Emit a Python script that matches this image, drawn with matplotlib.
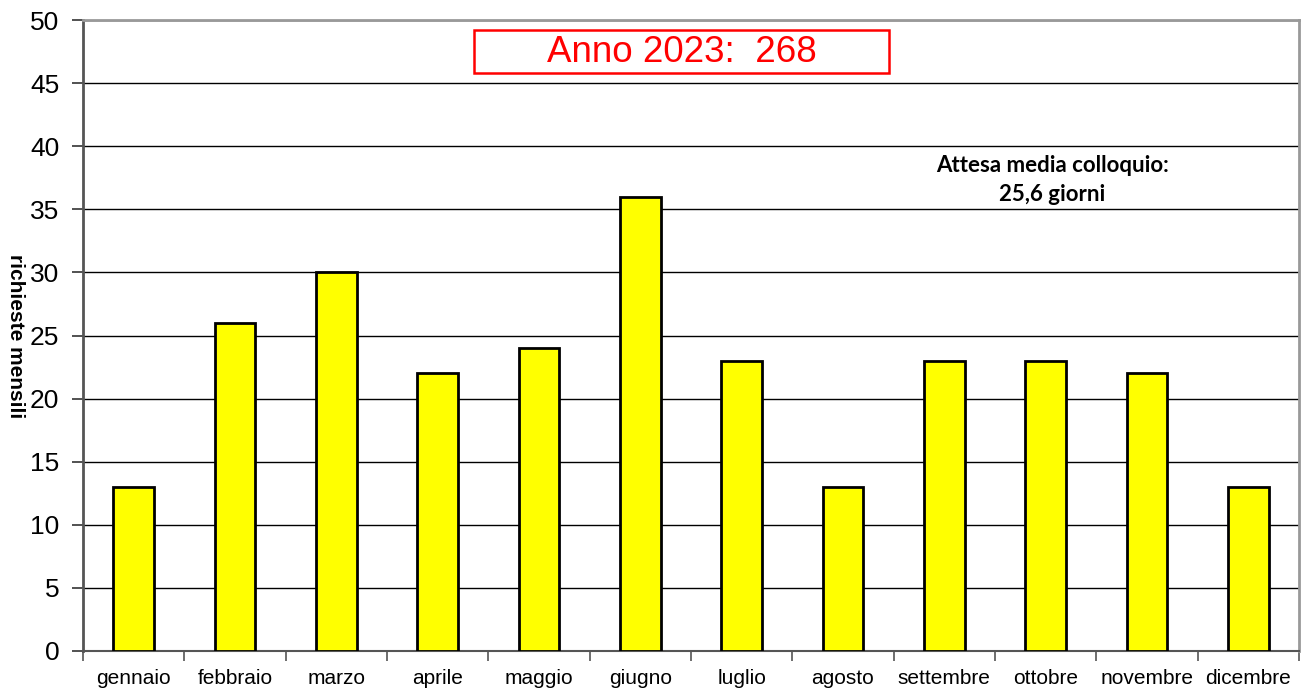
import numpy as np
import matplotlib.pyplot as plt
from matplotlib.patches import Rectangle
from matplotlib.ticker import MultipleLocator, FixedLocator

# richieste mensili 2023
mesi = ['gennaio', 'febbraio', 'marzo', 'aprile', 'maggio', 'giugno',
        'luglio', 'agosto', 'settembre', 'ottobre', 'novembre', 'dicembre']
richieste = [13, 26, 30, 22, 24, 36, 23, 13, 23, 23, 22, 13]
anno = 2023
attesa_media = '25,6'

plt.rcParams['font.family'] = ['Liberation Sans', 'DejaVu Sans']

W, H = 1307, 692
fig = plt.figure(figsize=(W / 100, H / 100), dpi=100)
ax = fig.add_axes([83 / W, 1 - 651 / H, (1299 - 83) / W, (651 - 20) / H])

x = np.arange(len(mesi))
ax.bar(x, richieste, width=0.4, color='#ffff00', edgecolor='black', linewidth=2, zorder=3)

ax.set_xlim(-0.5, len(mesi) - 0.5)
ax.set_ylim(0, 50)
ax.yaxis.set_major_locator(MultipleLocator(5))
ax.grid(axis='y', color='black', linewidth=1, zorder=0)

# etichette dei mesi al centro, tacche ai bordi delle categorie
ax.set_xticks(x)
ax.set_xticklabels(mesi, fontsize=15)
ax.xaxis.set_minor_locator(FixedLocator(np.arange(-0.5, len(mesi), 1)))
ax.tick_params(axis='x', which='major', length=0, pad=13)
ax.tick_params(axis='x', which='minor', length=7, width=1.2, color='#555555', direction='out')
ax.tick_params(axis='y', length=8, width=1.2, color='#333333', labelsize=19, pad=9)

for side in ['top', 'right']:
    ax.spines[side].set_color('#999999')
    ax.spines[side].set_linewidth(2)
ax.spines['left'].set_color('#555555')
ax.spines['left'].set_linewidth(2)
ax.spines['bottom'].set_color('#555555')
ax.spines['bottom'].set_linewidth(1.5)

fig.text(15 / W, 1 - 336 / H, 'richieste mensili', rotation=-90, fontsize=15,
         fontweight='bold', ha='center', va='center')

# riquadro con il totale annuo
totale = sum(richieste)
fig.patches.append(Rectangle((474 / W, 1 - 73 / H), (889 - 474) / W, (73 - 30) / H,
                             transform=fig.transFigure, facecolor='white',
                             edgecolor='red', linewidth=1.8, zorder=5))
fig.text(682 / W, 1 - 52 / H, f'Anno {anno}:  {totale}', ha='center', va='center',
         fontsize=26.5, color='red', zorder=6)

ax.text((1052 - 83) / 1216, (651 - 180) / 631, f'Attesa media colloquio:\n{attesa_media} giorni',
        transform=ax.transAxes, ha='center', va='center', fontsize=16, fontweight='bold',
        family=['Lato', 'DejaVu Sans'], linespacing=1.45, zorder=5)

fig.savefig('out.png', dpi=100, facecolor='white')
